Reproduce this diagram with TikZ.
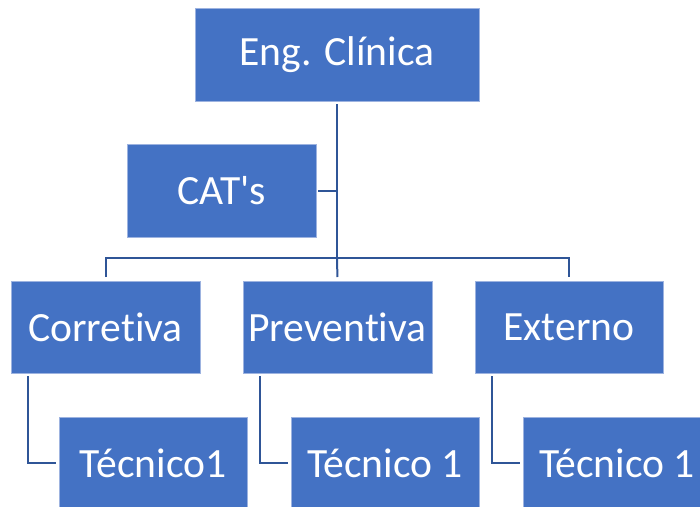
\documentclass[tikz,border=0pt]{standalone}
\usepackage{fontspec}
\setmainfont{Carlito}[Ligatures=NoCommon]
\definecolor{boxblue}{HTML}{4472C4}
\definecolor{edgeblue}{HTML}{9DB3E0}
\definecolor{linkblue}{HTML}{2F5597}
\begin{document}
\begin{tikzpicture}[x=1pt,y=-1pt,
  unit/.style={fill=boxblue,draw=edgeblue,line width=0.8pt,text=white,
    font=\fontsize{41.6}{48}\selectfont,inner sep=0pt,outer sep=0pt,
    anchor=north west,minimum width=189pt,minimum height=92pt},
  link/.style={draw=linkblue,line width=2pt}]
\useasboundingbox (0,0) rectangle (700,506);
\clip (0,0) rectangle (700,506);

% boxes
\node[unit,minimum width=284pt,minimum height=93pt] (eng) at (195,8) {Eng. Clínica};
\node[unit,minimum height=93pt] (cat) at (127,144) {CAT\textquotesingle s};
\node[unit] (corr) at (11,281) {Corretiva};
\node[unit] (prev) at (243,281) {Preventiva};
\node[unit,minimum width=188pt] (ext) at (475,281) {Externo};
\node[unit,minimum width=188pt] (t1) at (59,417) {Técnico1};
\node[unit,minimum width=188pt] (t2) at (291,417) {Técnico 1};
\node[unit,minimum width=188pt] (t3) at (523,417) {Técnico 1};

% bus lines
\coordinate (bus) at (eng.south |- 0,258);
\coordinate (busL) at (corr.north |- bus);
\coordinate (busR) at (ext.north |- bus);
\coordinate (catj) at (eng.south |- cat.east);

\draw[link,shorten <=3pt] (eng.south) -- (bus);
\draw[link,shorten >=2pt] (catj) -- (cat.east);
\draw[link,shorten <=4pt,shorten >=4pt] (corr.north) -- (busL) -- (busR) -- (ext.north);
\draw[link,shorten >=4pt] (bus) -- (prev.north);

% staff links
\draw[link,shorten <=3pt,shorten >=3pt] ([xshift=17pt]corr.south west) |- (t1.west);
\draw[link,shorten <=3pt,shorten >=3pt] ([xshift=17pt]prev.south west) |- (t2.west);
\draw[link,shorten <=3pt,shorten >=3pt] ([xshift=17pt]ext.south west) |- (t3.west);
\end{tikzpicture}
\end{document}
